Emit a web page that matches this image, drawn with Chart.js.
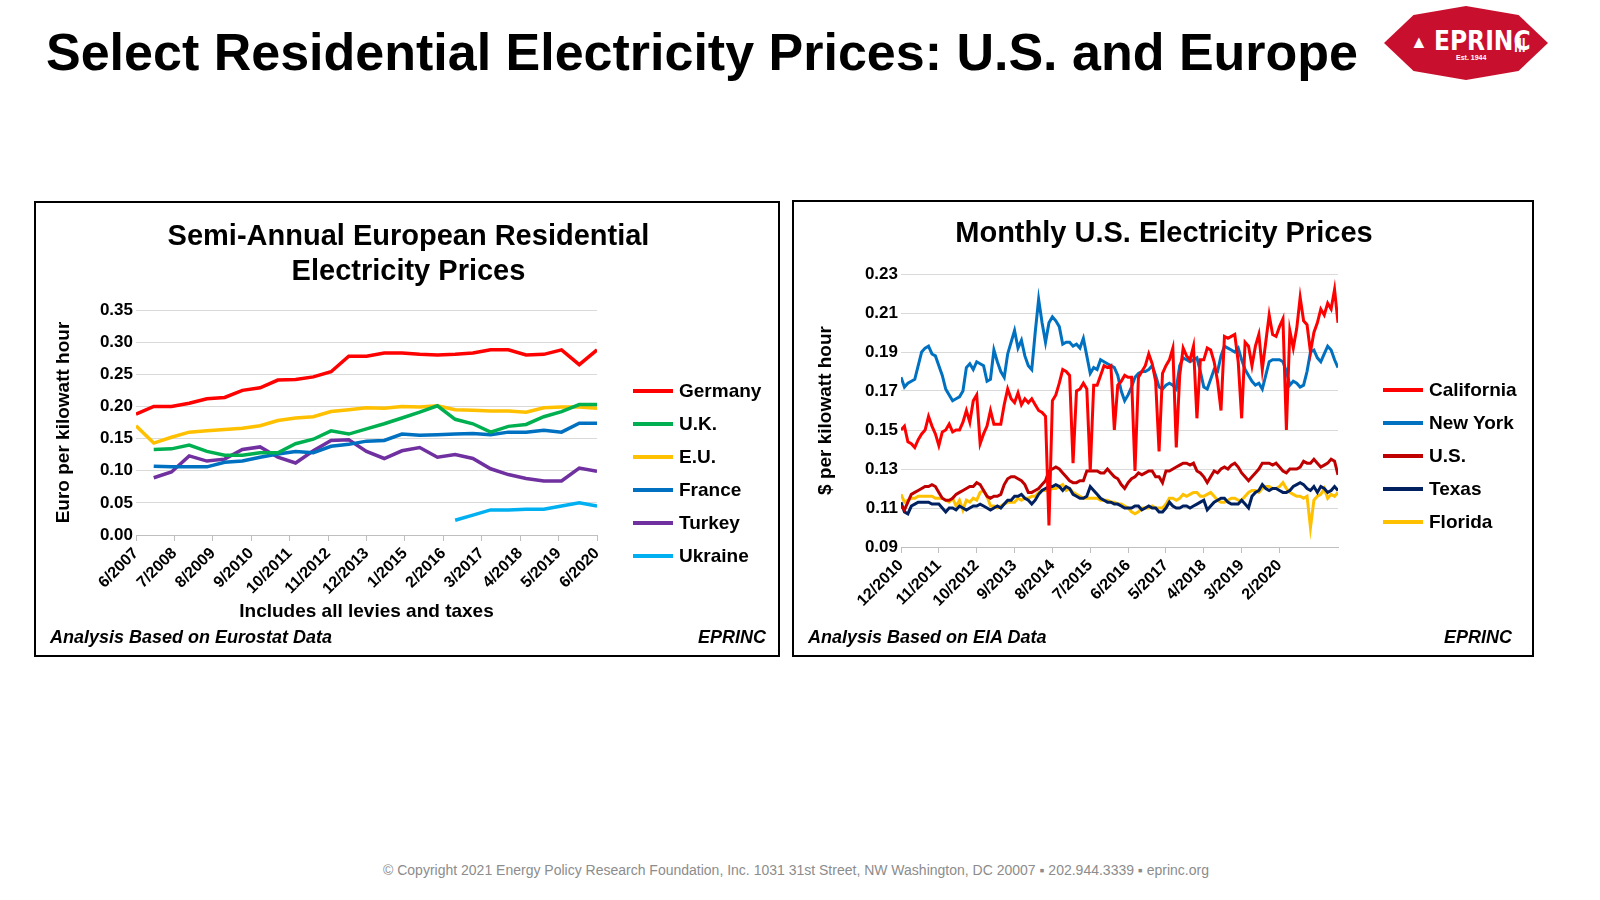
<!DOCTYPE html>
<html>
<head>
<meta charset="utf-8">
<script src="https://cdn.jsdelivr.net/npm/chart.js@4"></script>
<style>
  body { margin: 0; width: 1600px; height: 900px; background: #fff; font-family: "Liberation Sans", Arial, sans-serif; position: relative; overflow: hidden; }
  .abs { position: absolute; }
  #mainTitle { left: 46px; top: 22px; font-size: 52px; font-weight: bold; color: #000; white-space: nowrap; }
  .box { position: absolute; border: 2px solid #000; background: #fff; }
  .box canvas { position: absolute; left: 0; top: 0; }
  .ctitle { position: absolute; font-weight: bold; font-size: 29px; text-align: center; line-height: 35px; }
  .foot { position: absolute; font-weight: bold; font-style: italic; font-size: 18px; }
  .legend { position: absolute; }
  .legend div { position: relative; height: 33px; font-weight: bold; font-size: 19px; line-height: 33px; padding-left: 46px; white-space: nowrap; }
  .legend span { position: absolute; left: 0; top: 15px; width: 40px; height: 4px; }
  #copy { left: 0; width: 1592px; top: 862px; text-align: center; font-size: 14px; color: #8c8c8c; font-family: "Liberation Sans", Arial, sans-serif; }
  #logo { left: 1384px; top: 6px; width: 164px; height: 74px; background: #c8102e;
    clip-path: polygon(0 50%, 18% 12%, 50% 0, 82% 12%, 100% 50%, 82% 88%, 50% 100%, 18% 88%); color: #fff; }
</style>
</head>
<body>
<div id="mainTitle" class="abs">Select Residential Electricity Prices: U.S. and Europe</div>
<div id="logo" class="abs">
  <div style="position:absolute;left:50px;top:20px;font-size:26px;font-weight:bold;font-family:'Liberation Sans Narrow','DejaVu Sans Condensed',sans-serif;">EPRINC</div>
  <div style="position:absolute;left:72px;top:48px;font-size:7px;font-weight:bold;">Est. 1944</div>
  <div style="position:absolute;left:26px;top:26px;font-size:18px;">&#9650;</div>
  <div style="position:absolute;left:130px;top:30px;font-size:14px;font-weight:bold;">|||</div>
</div>

<div class="box" style="left:34px;top:201px;width:742px;height:452px;">
  <canvas id="euCanvas" width="742" height="452"></canvas>
  <div class="ctitle" style="left:70px;top:15px;width:605px;">Semi-Annual European Residential<br>Electricity Prices</div>
  <div class="legend" id="euLegend" style="left:597px;top:171px;"></div>
  <div class="foot" style="left:14px;top:424px;">Analysis Based on Eurostat Data</div>
  <div class="foot" style="right:12px;top:424px;">EPRINC</div>
</div>

<div class="box" style="left:792px;top:200px;width:738px;height:453px;">
  <canvas id="usCanvas" width="738" height="453"></canvas>
  <div class="ctitle" style="left:70px;top:13px;width:600px;">Monthly U.S. Electricity Prices</div>
  <div class="legend" id="usLegend" style="left:589px;top:171px;"></div>
  <div class="foot" style="left:14px;top:425px;">Analysis Based on EIA Data</div>
  <div class="foot" style="right:20px;top:425px;">EPRINC</div>
</div>

<div id="copy" class="abs">© Copyright 2021 Energy Policy Research Foundation, Inc. 1031 31st Street, NW Washington, DC 20007 ▪ 202.944.3339 ▪ eprinc.org</div>

<script>
// ---- European semi-annual data (Euro per kWh) ----
const euPeriods = ['6/2007','12/2007','6/2008','12/2008','6/2009','12/2009','6/2010','12/2010','6/2011','12/2011',
  '6/2012','12/2012','6/2013','12/2013','6/2014','12/2014','6/2015','12/2015','6/2016','12/2016',
  '6/2017','12/2017','6/2018','12/2018','6/2019','12/2019','6/2020'];
const germany = [.188,.200,.200,.205,.212,.214,.225,.229,.241,.242,.246,.254,.278,.278,.283,.283,.281,.280,.281,.283,.288,.288,.280,.281,.288,.265,.288];
const uk = [null,.133,.134,.140,.130,.124,.124,.128,.128,.142,.149,.162,.157,.165,.173,.182,.191,.201,.180,.173,.160,.169,.172,.184,.192,.203,.203];
const eu = [.170,.143,.152,.160,.162,.164,.166,.170,.178,.182,.184,.192,.195,.198,.197,.200,.199,.201,.195,.194,.193,.193,.191,.198,.199,.199,.197];
const france = [null,.107,.106,.106,.106,.113,.115,.121,.126,.130,.128,.138,.141,.146,.147,.157,.155,.156,.157,.158,.156,.160,.160,.163,.160,.174,.174];
const turkey = [null,.089,.098,.123,.115,.118,.133,.137,.121,.112,.131,.147,.148,.130,.119,.131,.136,.121,.125,.119,.103,.094,.088,.084,.084,.104,.099];
const ukraine = [null,null,null,null,null,null,null,null,null,null,null,null,null,null,null,null,null,null,.023,.031,.039,.039,.040,.040,.045,.050,.045];
const euTicks = [0, .05, .10, .15, .20, .25, .30, .35];

// ---- U.S. monthly data ($ per kWh), 12/2010 onward ----
const usStart = '12/2010';
const california = [.150,.152,.144,.143,.141,.145,.148,.150,.157,.152,
  .148,.142,.149,.150,.153,.149,.150,.150,.154,.160,
  .154,.165,.168,.143,.148,.152,.160,.153,.153,.153,
  .163,.171,.166,.164,.169,.163,.166,.164,.166,.163,
  .160,.159,.157,.101,.165,.168,.174,.181,.180,.178,
  .133,.170,.171,.174,.171,.129,.173,.173,.178,.183,
  .182,.183,.150,.173,.175,.178,.177,.177,.129,.177,
  .180,.183,.189,.184,.175,.139,.179,.183,.186,.192,
  .141,.178,.192,.188,.186,.193,.156,.186,.186,.192,
  .191,.185,.175,.160,.198,.197,.198,.199,.185,.156,
  .195,.193,.183,.193,.199,.181,.195,.209,.199,.198,
  .203,.207,.150,.201,.192,.202,.218,.206,.204,.190,
  .200,.205,.212,.209,.215,.212,.222,.205];
const newYork = [.177,.172,.174,.175,.176,.183,.190,.192,.193,.189,
  .188,.183,.178,.171,.168,.165,.166,.167,.170,.182,
  .184,.181,.185,.184,.183,.175,.176,.191,.185,.180,
  .177,.189,.195,.201,.192,.196,.188,.183,.181,.200,
  .217,.205,.195,.205,.208,.206,.203,.194,.195,.195,
  .193,.194,.192,.197,.188,.179,.182,.181,.186,.185,
  .184,.183,.182,.178,.170,.165,.168,.172,.177,.179,
  .180,.180,.181,.183,.178,.172,.171,.173,.174,.173,
  .171,.183,.187,.186,.185,.186,.187,.180,.172,.171,
  .176,.181,.180,.188,.193,.192,.191,.190,.192,.186,
  .181,.178,.175,.173,.174,.171,.178,.185,.186,.186,
  .186,.185,.180,.173,.175,.174,.172,.173,.180,.190,
  .191,.187,.185,.189,.193,.191,.186,.182];
const usAvg = [.111,.109,.113,.117,.118,.119,.120,.121,.121,.122,
  .121,.118,.115,.114,.114,.115,.117,.118,.119,.120,
  .121,.121,.123,.122,.119,.116,.115,.116,.116,.117,
  .122,.125,.126,.126,.125,.124,.122,.118,.118,.119,
  .120,.122,.124,.129,.130,.131,.130,.128,.126,.124,
  .123,.123,.124,.124,.129,.129,.129,.129,.128,.128,
  .130,.128,.126,.125,.122,.120,.123,.125,.126,.128,
  .127,.128,.129,.129,.126,.126,.123,.129,.129,.130,
  .131,.132,.133,.133,.132,.133,.129,.128,.126,.123,
  .126,.129,.128,.130,.131,.130,.132,.133,.131,.128,
  .126,.124,.126,.128,.130,.133,.133,.133,.132,.133,
  .131,.129,.128,.130,.130,.130,.131,.134,.133,.133,
  .135,.133,.131,.132,.133,.135,.134,.127];
const texas = [.113,.108,.107,.111,.112,.113,.113,.113,.113,.112,
  .112,.112,.110,.108,.110,.110,.109,.111,.110,.109,
  .110,.111,.111,.112,.111,.110,.109,.110,.111,.110,
  .112,.114,.114,.116,.116,.117,.115,.114,.112,.114,
  .117,.119,.120,.121,.121,.122,.121,.119,.121,.120,
  .117,.116,.115,.115,.116,.121,.119,.117,.115,.114,
  .113,.113,.112,.112,.111,.110,.110,.110,.111,.111,
  .109,.110,.111,.110,.110,.108,.108,.110,.113,.111,
  .110,.110,.111,.111,.110,.111,.112,.113,.114,.109,
  .111,.113,.114,.115,.115,.113,.112,.112,.112,.114,
  .112,.110,.116,.118,.119,.122,.120,.119,.120,.120,
  .119,.118,.118,.119,.121,.122,.123,.122,.120,.119,
  .121,.118,.121,.120,.118,.119,.121,.119];
const florida = [.117,.113,.114,.115,.115,.116,.116,.116,.116,.116,
  .115,.115,.115,.114,.113,.115,.111,.114,.109,.114,
  .113,.115,.114,.118,.119,.116,.111,.111,.110,.111,
  .112,.113,.113,.113,.115,.114,.115,.115,.116,.116,
  .118,.119,.119,.119,.120,.120,.121,.122,.119,.120,
  .118,.117,.116,.115,.115,.115,.115,.115,.114,.114,
  .114,.113,.113,.112,.112,.111,.110,.108,.107,.108,
  .110,.110,.110,.111,.110,.110,.110,.112,.115,.115,
  .114,.115,.117,.116,.117,.118,.118,.116,.116,.117,
  .118,.116,.114,.113,.113,.114,.115,.115,.114,.114,
  .116,.118,.119,.119,.118,.120,.121,.121,.120,.120,
  .121,.123,.120,.118,.117,.116,.116,.115,.116,.100,
  .114,.116,.117,.120,.115,.117,.116,.118];
const usTicks = [.09, .11, .13, .15, .17, .19, .21, .23];
const usTickLabels = ['12/2010','11/2011','10/2012','9/2013','8/2014','7/2015','6/2016','5/2017','4/2018','3/2019','2/2020'];

const FONT = '"Liberation Sans", Arial, sans-serif';
Chart.defaults.font.family = FONT;
Chart.defaults.color = '#000';

// month index helpers: "m/yyyy" -> months since year 0
function monthNum(s) { const p = s.split('/'); return Number(p[1]) * 12 + Number(p[0]) - 1; }
function monthLabel(n) { return ((n % 12) + 1) + '/' + Math.floor(n / 12); }

function buildLegend(el, items) {
  items.forEach(it => {
    const d = document.createElement('div');
    d.innerHTML = '<span style="background:' + it.color + '"></span>' + it.name;
    el.appendChild(d);
  });
}

// ---------- Left chart ----------
const euBase = monthNum(euPeriods[0]);
const euX = euPeriods.map(p => monthNum(p) - euBase);
const euSeries = [
  { name: 'Germany', data: germany, color: '#ff0000' },
  { name: 'U.K.', data: uk, color: '#00b050' },
  { name: 'E.U.', data: eu, color: '#ffc000' },
  { name: 'France', data: france, color: '#0070c0' },
  { name: 'Turkey', data: turkey, color: '#7030a0' },
  { name: 'Ukraine', data: ukraine, color: '#00b0f0' }
];
buildLegend(document.getElementById('euLegend'), euSeries);

new Chart(document.getElementById('euCanvas'), {
  type: 'line',
  data: {
    datasets: euSeries.map(s => ({
      label: s.name,
      data: s.data.map((v, i) => ({ x: euX[i], y: v })),
      borderColor: s.color, backgroundColor: s.color,
      borderWidth: 3.5, pointRadius: 0, tension: 0, spanGaps: false
    }))
  },
  options: {
    responsive: false, animation: false,
    layout: { padding: { top: 107, right: 181, left: 0, bottom: 0 } },
    plugins: { legend: { display: false }, tooltip: { enabled: false } },
    scales: {
      x: {
        type: 'linear', min: 0, max: euX[euX.length - 1],
        afterBuildTicks: sc => { sc.ticks = []; for (let m = 0; m <= sc.max; m += 13) sc.ticks.push({ value: m }); },
        afterFit: sc => { sc.height = 120; },
        ticks: { minRotation: 45, maxRotation: 45, font: { size: 16, weight: 'bold' }, callback: v => monthLabel(v + euBase) },
        grid: { drawOnChartArea: false, tickLength: 6, color: '#bfbfbf' },
        border: { color: '#bfbfbf' },
        title: { display: true, text: 'Includes all levies and taxes', font: { size: 19, weight: 'bold' }, padding: { top: 0, bottom: 32 } }
      },
      y: {
        min: 0, max: 0.35,
        afterBuildTicks: sc => { sc.ticks = euTicks.map(v => ({ value: v })); },
        afterFit: sc => { sc.width = 100; },
        ticks: { font: { size: 17, weight: 'bold' }, callback: v => v.toFixed(2) },
        grid: { color: '#d9d9d9', drawTicks: false },
        border: { display: false },
        title: { display: true, text: 'Euro per kilowatt hour', font: { size: 19, weight: 'bold' }, padding: { top: 16, bottom: 0 } }
      }
    }
  }
});

// ---------- Right chart ----------
const usBase = monthNum(usStart);
const usSeries = [
  { name: 'California', data: california, color: '#ff0000' },
  { name: 'New York', data: newYork, color: '#0070c0' },
  { name: 'U.S.', data: usAvg, color: '#c00000' },
  { name: 'Texas', data: texas, color: '#002060' },
  { name: 'Florida', data: florida, color: '#ffc000' }
];
buildLegend(document.getElementById('usLegend'), usSeries);
const usTickX = usTickLabels.map(l => monthNum(l) - usBase);

new Chart(document.getElementById('usCanvas'), {
  type: 'line',
  data: {
    datasets: usSeries.map(s => ({
      label: s.name,
      data: s.data.map((v, i) => ({ x: i, y: v })),
      borderColor: s.color, backgroundColor: s.color,
      borderWidth: 3, pointRadius: 0, tension: 0
    }))
  },
  options: {
    responsive: false, animation: false,
    layout: { padding: { top: 72, right: 194, left: 0, bottom: 0 } },
    plugins: { legend: { display: false }, tooltip: { enabled: false } },
    scales: {
      x: {
        type: 'linear', min: 0, max: california.length - 1,
        afterBuildTicks: sc => { sc.ticks = usTickX.map(v => ({ value: v })); },
        afterFit: sc => { sc.height = 108; },
        ticks: { minRotation: 45, maxRotation: 45, font: { size: 16, weight: 'bold' }, callback: v => monthLabel(v + usBase) },
        grid: { drawOnChartArea: false, tickLength: 6, color: '#bfbfbf' },
        border: { color: '#bfbfbf' }
      },
      y: {
        min: 0.09, max: 0.23,
        afterBuildTicks: sc => { sc.ticks = usTicks.map(v => ({ value: v })); },
        afterFit: sc => { sc.width = 107; },
        ticks: { font: { size: 17, weight: 'bold' }, callback: v => v.toFixed(2) },
        grid: { color: '#d9d9d9', drawTicks: false },
        border: { display: false },
        title: { display: true, text: '$ per kilowatt hour', font: { size: 19, weight: 'bold' }, padding: { top: 20, bottom: 0 } }
      }
    }
  }
});
</script>
</body>
</html>
